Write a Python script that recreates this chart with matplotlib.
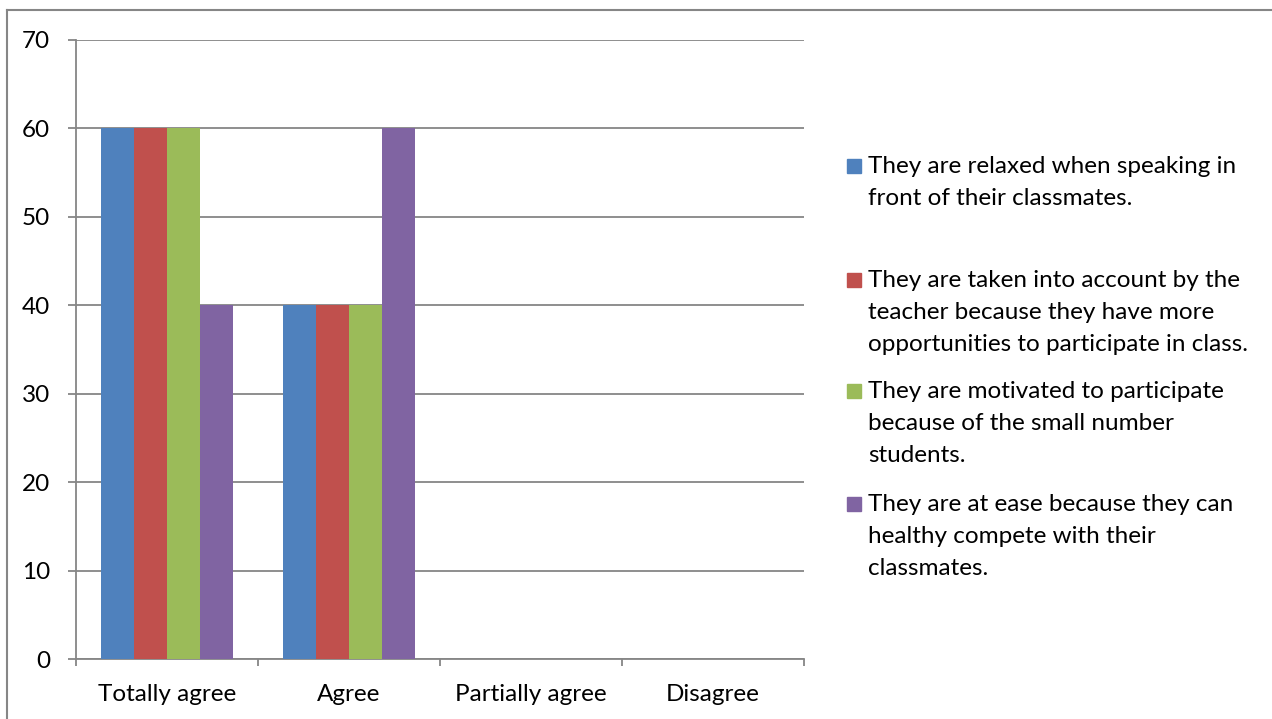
import matplotlib.pyplot as plt
from matplotlib.patches import Rectangle
from matplotlib.lines import Line2D
import numpy as np

plt.rcParams['font.family'] = ['Lato', 'DejaVu Sans']

# données du graphique
categories = ['Totally agree', 'Agree', 'Partially agree', 'Disagree']
relaxed = [60, 40, 0, 0]
taken_into_account = [60, 40, 0, 0]
motivated = [60, 40, 0, 0]
at_ease = [40, 60, 0, 0]

series_labels = [
    "They are relaxed when speaking in\nfront of their classmates.",
    "They are taken into account by the\nteacher because they have more\nopportunities to participate in class.",
    "They are motivated to participate\nbecause of the small number\nstudents.",
    "They are at ease because they can\nhealthy compete with their\nclassmates.",
]
colors = ['#4F81BD', '#C0504D', '#9BBB59', '#8064A2']
series = [relaxed, taken_into_account, motivated, at_ease]

W, H = 1272, 719
fs = 17.5
fig = plt.figure(figsize=(W / 100, H / 100), dpi=100)
ax = fig.add_axes([76 / W, 1 - 659 / H, (804 - 76) / W, (659 - 40) / H])

grey = '#868686'
x = np.arange(len(categories))
bw = 0.725 / 4
for i, (vals, c) in enumerate(zip(series, colors)):
    ax.bar(x - 0.3625 + bw * (i + 0.5), vals, width=bw, color=c,
           linewidth=0, zorder=3)

ax.set_xlim(-0.5, 3.5)
ax.set_ylim(0, 70)
ax.set_yticks(range(0, 71, 10))
ax.yaxis.grid(True, color=grey, linewidth=1.3, zorder=0)
ax.set_xticks(np.arange(-0.5, 3.6, 1))
ax.set_xticklabels([])
ax.set_xticks(x, minor=True)
ax.set_xticklabels(categories, minor=True)
ax.tick_params(axis='x', which='minor', length=0, pad=18, labelsize=fs)
ax.tick_params(axis='x', which='major', length=5, width=1.3, color=grey, direction='out')
ax.tick_params(axis='y', length=6, width=1.3, color=grey, labelsize=fs, pad=12.5)
for s in ['top', 'right']:
    ax.spines[s].set_visible(False)
for s in ['left', 'bottom']:
    ax.spines[s].set_color(grey)
    ax.spines[s].set_linewidth(1.3)

# légende dessinée à la main, une ligne par entrée
entry_tops = [159, 273, 384, 497]
for lab, c, top in zip(series_labels, colors, entry_tops):
    fig.add_artist(Rectangle((847 / W, 1 - (top + 14) / H), 14 / W, 14 / H,
                             transform=fig.transFigure, color=c))
    fig.text(868 / W, 1 - (top - 3) / H, lab, fontsize=fs, va='top', ha='left',
             linespacing=1.65)

# cadre autour de la figure
fig.add_artist(Line2D([7 / W, 7 / W], [0, 1 - 10 / H], color=grey, linewidth=1.5,
                      transform=fig.transFigure))
fig.add_artist(Line2D([7 / W, 1], [1 - 10 / H, 1 - 10 / H], color=grey, linewidth=1.5,
                      transform=fig.transFigure))

fig.savefig('out.png', dpi=100)
